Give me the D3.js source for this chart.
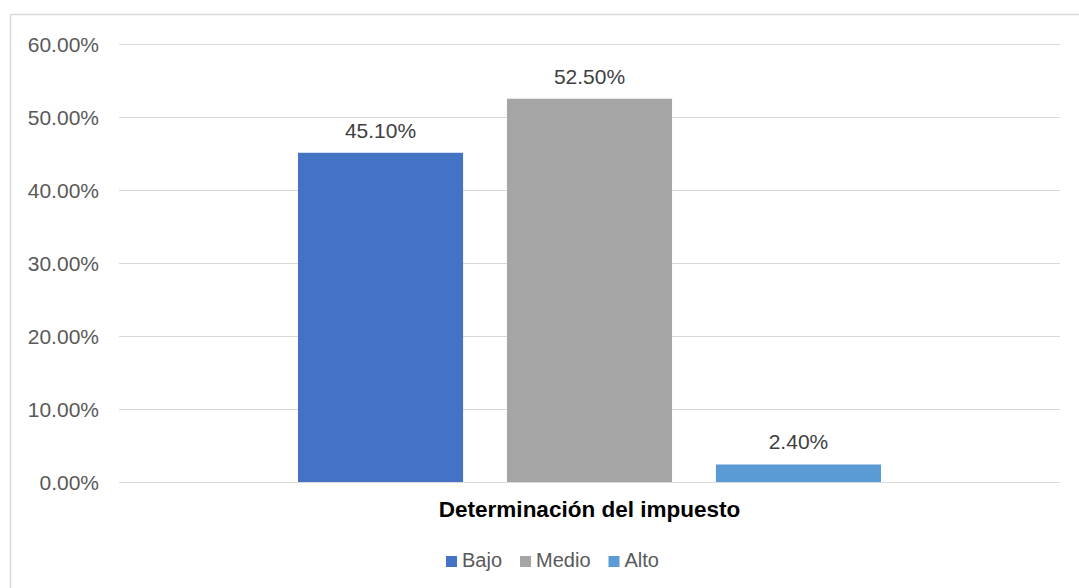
<!DOCTYPE html>
<html><head><meta charset="utf-8">
<script src="https://cdn.jsdelivr.net/npm/d3@7"></script>
<style>body{margin:0;background:#fff;}svg{display:block;font-family:"Liberation Sans",Arial,sans-serif;}</style>
</head><body><svg id="c" width="1079" height="588"></svg>
<script>
const category = "Determinación del impuesto";
const series = ["Bajo", "Medio", "Alto"];
const values = [0.451, 0.525, 0.024];
const colors = ["#4472C4", "#A5A5A5", "#5B9BD5"];
const yTicks = [0, 0.1, 0.2, 0.3, 0.4, 0.5, 0.6];

const svg = d3.select("#c");
svg.append("rect").attr("x",10.5).attr("y",14.5).attr("width",1080).attr("height",600)
  .attr("fill","#fff").attr("stroke","#d9d9d9").attr("stroke-width",1.5);

const pLeft = 119, pRight = 1060, pTop = 44, pBottom = 482;
const y = d3.scaleLinear().domain([0, 0.6]).range([pBottom, pTop]);
const x0 = d3.scaleBand().domain([category]).range([pLeft, pRight]).paddingInner(0).paddingOuter(0.307);
const x1 = d3.scaleBand().domain(series).range([0, x0.bandwidth()]).paddingInner(0.21).paddingOuter(0);

const yAxis = d3.axisLeft(y).tickValues(yTicks).tickSize(-(pRight-pLeft)).tickFormat(d3.format(".2%"));
const g = svg.append("g").attr("transform",`translate(${pLeft},0)`).call(yAxis);
g.select(".domain").remove();
g.selectAll(".tick line").attr("stroke","#d9d9d9").attr("stroke-width",1.2);
g.selectAll(".tick text").attr("x",-20).attr("dy","0.35em").attr("fill","#595959")
  .style("font-size","21px").style("font-family","'Liberation Sans',Arial,sans-serif");

const bars = svg.append("g").attr("transform",`translate(${x0(category)},0)`);
bars.selectAll("rect").data(series).join("rect")
  .attr("x",d=>x1(d)).attr("width",x1.bandwidth())
  .attr("y",(d,i)=>y(values[i])).attr("height",(d,i)=>pBottom - y(values[i]))
  .attr("fill",(d,i)=>colors[i]);
bars.selectAll("text").data(series).join("text")
  .attr("x",d=>x1(d)+x1.bandwidth()/2).attr("y",(d,i)=>y(values[i])-15)
  .attr("text-anchor","middle").attr("fill","#404040").style("font-size","21px")
  .text((d,i)=>d3.format(".2%")(values[i]));

svg.append("text").attr("x",(pLeft+pRight)/2).attr("y",517).attr("text-anchor","middle")
  .attr("fill","#000").style("font-size","22.5px").style("font-weight","bold").text(category);

const lg = svg.append("g");
let lx = 446;
series.forEach((s,i)=>{
  lg.append("rect").attr("x",lx).attr("y",556).attr("width",11).attr("height",11).attr("fill",colors[i]);
  const t = lg.append("text").attr("x",lx+16).attr("y",567).attr("fill","#595959").style("font-size","20px").text(s);
  lx += 16 + t.node().getComputedTextLength() + 18;
});
</script></body></html>
